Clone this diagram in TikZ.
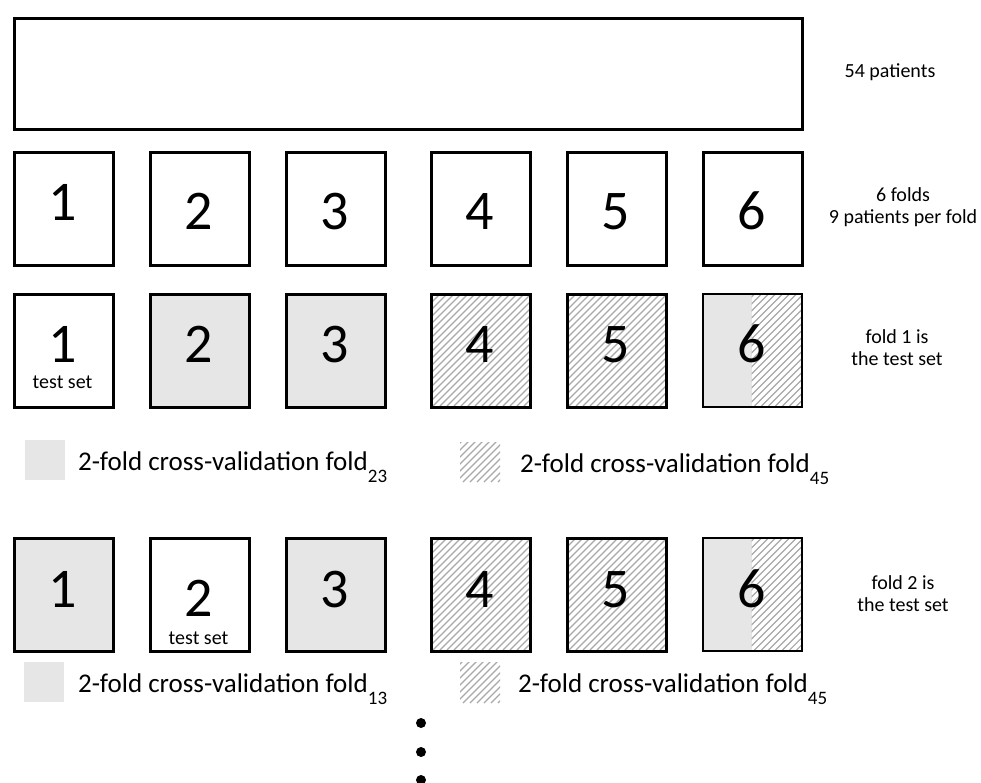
\documentclass[tikz,border=0pt]{standalone}
\usepackage{fontspec}
\setmainfont{Carlito}
\definecolor{foldgray}{HTML}{E6E6E6}
\definecolor{hatchgray}{HTML}{A8A8A8}
\newcommand\hatchrect[4]{%
  \begin{scope}
    \clip (#1,#2) rectangle (#3,#4);
    \foreach \k in {-130,-123,...,110}{\draw[hatchline] ({#1+\k},#4) -- ++(140,-140);}
  \end{scope}}
\newcommand\subnum[1]{\raisebox{-12pt}{\fontsize{19}{19}\selectfont #1}}
\begin{document}
\begin{tikzpicture}[x=1pt,y=-1pt,
  fold/.style={draw, line width=3pt, minimum width=99pt, minimum height=113pt, inner sep=0pt, anchor=north west},
  thinfold/.style={draw, line width=1.5pt, minimum width=99pt, minimum height=113pt, inner sep=0pt, anchor=north west},
  digit/.style={font=\fontsize{56}{56}\selectfont, inner sep=0pt, anchor=base},
  testlbl/.style={font=\fontsize{20}{20}\selectfont, inner sep=0pt},
  side/.style={font=\fontsize{20}{22}\selectfont, align=center, inner sep=0pt},
  legend/.style={font=\fontsize{27}{27}\selectfont, anchor=base west, inner sep=0pt},
  legbox/.style={minimum width=40pt, minimum height=40pt, inner sep=0pt, anchor=north west},
  hatchline/.style={draw=hatchgray, line width=1.1pt},
  dot/.style={circle, fill=black, minimum size=10pt, inner sep=0pt}]
\useasboundingbox (0,0) rectangle (981,782);

% all patients
\node[draw, line width=3pt, minimum width=788pt, minimum height=111pt, inner sep=0pt, anchor=north west] (all) at (13,17) {};
\node[side] (t0) at (890,72) {54 patients};

% row 1
\foreach \i/\x in {1/13,2/149,3/285,4/430,5/566,6/702}{
  \node[fold] (a\i) at (\x,151) {};
}
\node[digit] (ad1) at (62.5,220) {1};
\foreach \i/\x in {2/149,3/285,4/430,5/566,6/702}{
  \node[digit] (ad\i) at (\x+49.5,229) {\i};
}
\node[side] (t1) at (903,207) {6 folds\\9 patients per fold};

% row 2
\node[fold] (b1) at (13,293) {};
\node[fold, fill=foldgray] (b2) at (149,293) {};
\node[fold, fill=foldgray] (b3) at (285,293) {};
\hatchrect{430}{293}{529}{406}
\node[fold] (b4) at (430,293) {};
\hatchrect{566}{293}{665}{406}
\node[fold] (b5) at (566,293) {};
\fill[foldgray] (702,293) rectangle (751.5,406);
\hatchrect{751.5}{293}{801}{406}
\node[thinfold] (b6) at (702,293) {};
\foreach \i/\x in {1/13,2/149,3/285,4/430,5/566,6/702}{
  \node[digit] (bd\i) at (\x+49.5,362) {\i};
}
\node[testlbl] (bt) at (62.5,382) {test set};
\node[side] (t2) at (897,348) {fold 1 is\\the test set};

% legend 1
\node[legbox, fill=foldgray] (lg1) at (25,440) {};
\node[legend] (lt1) at (78,470) {2-fold cross-validation fold\subnum{23}};
\hatchrect{460}{442}{500}{482}
\node[legbox] (lh1) at (460,442) {};
\node[legend] (lt2) at (520,472) {2-fold cross-validation fold\subnum{45}};

% row 3
\node[fold, fill=foldgray] (c1) at (13,537) {};
\node[fold] (c2) at (149,537) {};
\node[fold, fill=foldgray] (c3) at (285,537) {};
\hatchrect{430}{537}{529}{650}
\node[fold] (c4) at (430,537) {};
\hatchrect{566}{537}{665}{650}
\node[fold] (c5) at (566,537) {};
\fill[foldgray] (702,537) rectangle (751.5,650);
\hatchrect{751.5}{537}{801}{650}
\node[thinfold] (c6) at (702,537) {};
\foreach \i/\x in {1/13,3/285,4/430,5/566,6/702}{
  \node[digit] (cd\i) at (\x+49.5,607) {\i};
}
\node[digit] (cd2) at (198.5,616) {2};
\node[testlbl] (ct) at (198.5,638) {test set};
\node[side] (t3) at (903,594) {fold 2 is\\the test set};

% legend 2
\node[legbox, fill=foldgray] (lg2) at (24,662) {};
\node[legend] (lt3) at (78,692) {2-fold cross-validation fold\subnum{13}};
\hatchrect{460}{662}{500}{703}
\node[legbox] (lh2) at (460,662) {};
\node[legend] (lt4) at (518,692) {2-fold cross-validation fold\subnum{45}};

% continuation dots
\node[dot] (d1) at (421,723) {};
\node[dot] (d2) at (421,752) {};
\node[dot] (d3) at (421,780) {};
\end{tikzpicture}
\end{document}
